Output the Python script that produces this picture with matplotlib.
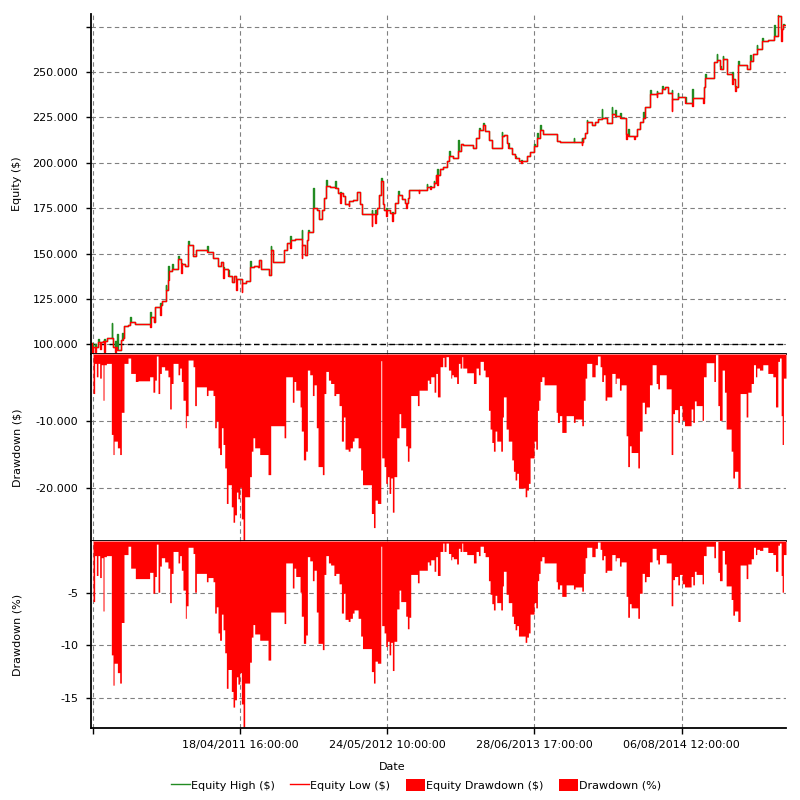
import numpy as np
import matplotlib
matplotlib.use("Agg")
import matplotlib.pyplot as plt
from matplotlib.lines import Line2D
from matplotlib.patches import Patch
from datetime import datetime

# x values are days since the first bar (07/03/2010 21:00)
start = datetime(2010, 3, 7, 21)

# equity curve, thousands of $
eq_days = [0, 3, 5, 11, 13, 20, 22, 24, 26, 34, 36, 38, 43, 56, 58, 61, 65, 67, 72, 74,
           82, 85, 87, 91, 100, 106, 108, 120, 161, 163, 173, 176, 188, 190, 195, 204, 206, 211, 213, 222,
           224, 237, 239, 247, 249, 257, 266, 268, 279, 287, 316, 318, 334, 346, 348, 355, 361, 363, 375, 377,
           384, 391, 397, 399, 411, 413, 422, 434, 436, 446, 456, 459, 464, 486, 490, 492, 498, 528, 534, 543,
           545, 557, 575, 577, 584, 589, 593, 595, 607, 609, 616, 621, 631, 637, 641, 643, 652, 666, 668, 675,
           680, 682, 689, 694, 703, 705, 716, 727, 733, 739, 766, 768, 775, 777, 780, 787, 791, 794, 796, 801,
           805, 807, 816, 822, 824, 830, 839, 841, 848, 857, 860, 862, 866, 869, 894, 896, 916, 918, 925, 928,
           935, 937, 942, 945, 947, 953, 962, 971, 978, 980, 989, 1003, 1005, 1010, 1016, 1044, 1051, 1060, 1062, 1071,
           1073, 1076, 1085, 1087, 1094, 1103, 1121, 1123, 1126, 1135, 1139, 1141, 1148, 1157, 1159, 1167, 1175, 1177, 1189, 1198,
           1209, 1211, 1217, 1219, 1226, 1228, 1235, 1271, 1273, 1280, 1317, 1319, 1339, 1341, 1344, 1348, 1353, 1355, 1367, 1376,
           1385, 1394, 1396, 1408, 1421, 1423, 1430, 1432, 1444, 1446, 1460, 1462, 1467, 1469, 1482, 1484, 1490, 1499, 1508, 1510,
           1512, 1526, 1528, 1544, 1546, 1558, 1560, 1567, 1574, 1585, 1587, 1601, 1603, 1622, 1624, 1640, 1642, 1670, 1672, 1676,
           1678, 1701, 1708, 1710, 1717, 1719, 1724, 1726, 1735, 1737, 1749, 1751, 1758, 1760, 1767, 1769, 1790, 1799, 1801, 1808,
           1817, 1819, 1831, 1833, 1849, 1865, 1867, 1874, 1876, 1884, 1886, 1890, 1892, 1897]
eq_low = [100.6, 95.0, 98.7, 96.0, 98.7, 101.5, 101.5, 97.5, 101.5, 101.8, 96.0, 101.8, 103.3, 103.3, 103.3, 98.3, 96.0, 98.3, 96.9, 96.9,
          102.4, 102.4, 103.3, 110.1, 110.7, 112.2, 112.2, 111.2, 109.8, 115.3, 112.5, 120.3, 116.0, 121.7, 123.9, 130.0, 130.0, 135.3, 140.1, 141.6,
          141.6, 146.9, 146.9, 139.2, 144.4, 142.9, 154.9, 154.9, 148.8, 152.1, 150.6, 150.6, 147.5, 142.9, 142.9, 145.3, 136.5, 141.4, 137.4, 137.4,
          134.1, 137.4, 130.0, 135.9, 128.7, 133.7, 135.0, 142.3, 142.3, 143.3, 142.5, 146.2, 141.6, 138.3, 146.0, 152.1, 145.3, 152.1, 155.8, 153.0,
          157.6, 158.0, 147.5, 154.9, 149.3, 157.6, 161.7, 161.7, 175.1, 175.1, 174.2, 169.0, 174.2, 180.3, 187.1, 187.1, 186.5, 186.2, 186.2, 183.4,
          177.9, 183.4, 181.6, 177.0, 176.4, 178.8, 179.2, 183.8, 177.5, 172.0, 165.0, 172.0, 167.0, 172.0, 175.1, 182.3, 189.8, 189.8, 177.5, 174.2,
          170.5, 174.2, 172.4, 167.7, 172.4, 177.9, 182.3, 182.3, 180.1, 177.9, 174.9, 177.9, 180.6, 185.2, 183.2, 185.2, 186.7, 186.7, 185.6, 186.7,
          188.9, 188.9, 193.5, 188.0, 193.5, 196.3, 197.8, 200.9, 203.6, 203.6, 202.7, 206.4, 206.4, 210.1, 209.5, 208.2, 213.8, 217.8, 217.8, 220.6,
          220.6, 217.5, 212.3, 212.3, 208.2, 207.9, 214.7, 214.7, 215.1, 211.0, 207.9, 207.9, 204.9, 202.7, 202.7, 200.9, 199.6, 200.9, 203.6, 206.0,
          209.2, 209.2, 213.8, 213.8, 218.0, 218.0, 216.0, 211.9, 211.9, 211.4, 211.4, 211.4, 210.0, 211.6, 213.8, 216.5, 222.6, 222.6, 220.6, 222.4,
          224.3, 224.8, 224.8, 222.1, 227.0, 227.0, 225.7, 225.7, 224.8, 224.8, 212.9, 216.0, 214.7, 214.7, 212.9, 214.7, 218.4, 222.6, 224.8, 224.8,
          230.7, 237.7, 237.7, 236.0, 238.3, 240.8, 240.8, 241.9, 238.6, 228.5, 234.9, 236.4, 236.4, 233.1, 233.1, 231.5, 235.9, 233.1, 241.9, 246.9,
          246.9, 255.6, 256.7, 256.7, 251.5, 251.5, 257.0, 257.0, 248.8, 248.8, 243.2, 246.0, 239.5, 241.9, 253.7, 253.7, 251.5, 256.1, 256.1, 259.8,
          262.6, 262.6, 267.2, 267.2, 267.7, 269.9, 269.9, 280.6, 280.6, 267.2, 273.6, 275.8, 275.8, 275.8]
eq_high = [100.6, 100.6, 98.7, 100.0, 98.7, 103.0, 101.5, 101.5, 101.5, 101.8, 103.0, 101.8, 103.3, 111.6, 103.3, 98.3, 102.0, 98.3, 105.6, 96.9,
           102.4, 106.0, 103.3, 110.1, 110.7, 115.0, 112.2, 111.2, 118.0, 115.3, 112.5, 120.3, 122.5, 121.7, 123.9, 132.6, 130.0, 143.0, 140.1, 144.0,
           141.6, 148.5, 146.9, 145.0, 144.4, 142.9, 157.0, 154.9, 148.8, 152.1, 154.0, 150.6, 147.5, 145.0, 142.9, 145.3, 142.5, 141.4, 141.0, 137.4,
           134.1, 137.4, 136.0, 135.9, 133.7, 133.7, 135.0, 146.0, 142.3, 143.3, 142.5, 146.2, 141.6, 138.3, 154.0, 152.1, 145.3, 152.1, 155.8, 159.5,
           157.6, 158.0, 163.0, 154.9, 149.3, 157.6, 163.0, 161.7, 186.2, 175.1, 174.2, 169.0, 174.2, 180.3, 190.4, 187.1, 186.5, 189.8, 186.2, 183.4,
           184.0, 183.4, 181.6, 177.0, 179.0, 178.8, 179.2, 183.8, 177.5, 172.0, 174.2, 172.0, 174.0, 172.0, 175.1, 182.3, 191.7, 189.8, 177.5, 174.2,
           175.0, 174.2, 172.4, 173.0, 172.4, 177.9, 184.5, 182.3, 180.1, 177.9, 178.0, 177.9, 180.6, 185.2, 185.2, 185.2, 188.5, 186.7, 187.0, 186.7,
           190.0, 188.9, 193.5, 196.3, 193.5, 196.3, 197.8, 200.9, 206.4, 203.6, 202.7, 212.3, 206.4, 210.1, 209.5, 208.2, 213.8, 219.0, 217.8, 222.0,
           220.6, 217.5, 214.0, 212.3, 208.2, 207.9, 217.0, 214.7, 215.1, 211.0, 211.0, 207.9, 204.9, 203.5, 202.7, 200.9, 201.5, 200.9, 203.6, 206.0,
           210.5, 209.2, 216.5, 213.8, 220.6, 218.0, 216.0, 212.5, 211.9, 211.4, 213.8, 211.4, 213.6, 211.6, 213.8, 216.5, 223.8, 222.6, 220.6, 222.4,
           224.3, 229.6, 224.8, 222.1, 230.6, 227.0, 229.0, 225.7, 227.6, 224.8, 216.0, 216.0, 218.4, 214.7, 214.7, 214.7, 218.4, 222.6, 228.0, 224.8,
           230.7, 240.2, 237.7, 239.5, 238.3, 242.4, 240.8, 241.9, 238.6, 240.0, 234.9, 238.6, 236.4, 236.4, 233.1, 240.8, 235.9, 235.9, 241.9, 249.0,
           246.9, 255.6, 259.8, 256.7, 253.0, 251.5, 258.5, 257.0, 250.6, 248.8, 250.0, 246.0, 242.0, 241.9, 256.1, 253.7, 251.5, 259.5, 256.1, 259.8,
           265.0, 262.6, 268.5, 267.2, 267.7, 275.8, 269.9, 281.5, 280.6, 273.6, 273.6, 276.5, 275.8, 275.8]

# drawdown, thousands of $ and percent
dd_days = [5.5, 10, 14.6, 19, 23.7, 28, 32.8, 35.5, 42, 55.5, 60, 63, 72, 78.3, 82.8, 90, 101, 108.3, 121, 128.3,
           160, 169, 174, 178.4, 183, 187.5, 192, 201, 210, 214.8, 219, 224, 237.5, 242, 246.6, 251, 257.5, 260, 265, 278.5,
           283, 287.6, 315, 319.4, 333, 337.6, 342, 346.7, 351, 356, 360.4, 365, 369.5, 374, 383, 387.7, 392, 397, 401, 406,
           410.4, 415, 419.5, 433, 437.7, 442, 446.8, 460.5, 483.2, 490.5, 527, 531.5, 549.6, 554, 558.8, 570.6, 574, 579.7, 586, 590.6,
           597, 604.3, 608.8, 615, 619.7, 631.5, 636, 641, 648, 654, 663, 668, 677, 683.4, 689, 693.4, 702, 707, 713.5, 718,
           729, 736, 741, 765.3, 771, 775.3, 781.7, 791, 793.5, 800, 804.5, 809, 813.6, 818, 822.6, 827, 834.5, 840.8, 845.4, 859,
           863.6, 868, 872.7, 891, 895.5, 918, 922.8, 927.3, 936.4, 941, 945.5, 952.8, 960, 963.7, 969, 975.6, 982, 984.6, 989, 998,
           1002.8, 1007.4, 1012, 1014.7, 1025.6, 1043.8, 1051, 1057.5, 1062, 1071, 1075.7, 1084.8, 1089.3, 1094, 1098.4, 1103, 1107.5, 1118.4, 1123, 1125.7,
           1133, 1139, 1148.5, 1153, 1157.5, 1162, 1166.7, 1185, 1189.4, 1194, 1198.5, 1209.4, 1214, 1218.5, 1222, 1225.8, 1230.4, 1236.7, 1269.5, 1273,
           1278.6, 1285, 1296.8, 1316.8, 1321.4, 1339.6, 1344, 1348.7, 1353, 1366.9, 1376, 1382.3, 1389.6, 1394, 1398.7, 1403.2, 1407.8, 1421.5, 1430.6, 1433.3,
           1442.4, 1447, 1460.6, 1465, 1469.7, 1474.3, 1492.5, 1497, 1504.3, 1510.6, 1515, 1524.3, 1531.6, 1542.5, 1547, 1551.6, 1570, 1583.5, 1588, 1592.6,
           1601.7, 1606.2, 1613.5, 1620, 1638, 1642.6, 1647, 1651.7, 1668, 1671.7, 1679, 1700, 1704.5, 1711, 1715.4, 1722.7, 1729, 1733.6, 1747.3, 1751.8,
           1756.4, 1765.5, 1771.8, 1788.2, 1792.8, 1801.9, 1808.2, 1813.7, 1817.3, 1824.6, 1833.7, 1847.4, 1861, 1868.3, 1874.7, 1879.2, 1883.8, 1886.5, 1890, 1897]
dd_usd = [-5.9, -1.4, -3.4, -1.4, -3.6, -1.6, -6.9, -1.6, -1.4, -12.0, -15.0, -13.0, -14.0, -15.0, -8.7, -1.4, -0.6, -2.9, -4.1, -4.0,
          -3.4, -5.7, -3.9, -0.3, -5.9, -2.9, -1.9, -2.4, -3.4, -8.2, -4.4, -1.4, -3.1, -2.1, -4.1, -6.9, -11.0, -9.2, -0.9, -1.9,
          -7.7, -4.9, -6.2, -5.4, -6.2, -11.0, -10.0, -14.0, -15.0, -11.0, -13.5, -17.0, -22.3, -19.5, -22.8, -25.1, -24.0, -20.6, -21.6, -19.9,
          -24.6, -27.9, -21.3, -18.3, -14.5, -12.5, -14.0, -15.0, -18.0, -10.7, -12.5, -3.4, -7.2, -4.1, -5.4, -7.9, -11.5, -15.8, -14.5, -2.4,
          -3.1, -6.2, -4.6, -11.0, -16.8, -18.0, -5.9, -2.6, -3.9, -4.4, -6.2, -5.9, -7.7, -13.0, -9.4, -14.2, -14.5, -14.0, -13.0, -12.5,
          -14.0, -17.3, -19.5, -23.8, -25.9, -21.8, -22.3, -1.0, -15.5, -16.8, -19.3, -18.3, -20.8, -18.5, -23.6, -18.3, -12.5, -8.9, -11.0, -13.7,
          -16.0, -14.0, -6.2, -7.7, -5.4, -3.9, -4.4, -3.4, -5.7, -2.9, -6.4, -1.9, -0.5, -1.9, -0.4, -2.4, -3.6, -3.1, -3.4, -4.4,
          -1.4, -2.1, -0.4, -2.1, -2.8, -4.4, -2.1, -3.1, -1.1, -2.4, -3.4, -8.4, -11.2, -13.2, -14.5, -11.5, -13.0, -14.5, -9.4, -6.4,
          -11.2, -13.0, -15.8, -17.5, -18.8, -17.8, -20.0, -21.3, -20.3, -19.3, -15.5, -13.0, -14.2, -8.4, -6.9, -4.1, -3.4, -4.6, -8.7, -10.2,
          -9.2, -11.7, -9.2, -10.2, -9.7, -10.7, -6.9, -3.6, -1.4, -3.4, -1.6, -0.3, -1.9, -4.1, -3.1, -6.9, -6.4, -2.9, -4.4, -3.6,
          -5.4, -4.6, -12.2, -16.8, -13.7, -14.7, -17.0, -11.5, -7.2, -8.9, -7.9, -4.6, -1.6, -4.4, -5.2, -3.1, -5.2, -15.0, -8.9, -8.3,
          -10.2, -7.7, -9.9, -10.7, -8.2, -10.2, -7.0, -7.7, -9.9, -3.4, -1.3, -4.1, -0.1, -7.7, -9.9, -2.4, -5.7, -11.2, -14.5, -18.5,
          -17.5, -20.0, -5.9, -9.4, -5.7, -4.4, -1.6, -3.4, -2.1, -2.4, -1.6, -2.9, -3.4, -7.9, -1.1, -0.6, -9.2, -13.5, -3.6, -3.6]
dd_pct = [-5.8, -1.4, -3.3, -1.4, -3.5, -1.6, -6.7, -1.5, -1.4, -10.9, -13.8, -11.7, -12.6, -13.6, -7.8, -1.3, -0.5, -2.6, -3.6, -3.6,
          -3.0, -5.0, -3.4, -0.3, -4.9, -2.4, -1.6, -2.0, -2.6, -5.9, -3.1, -1.0, -2.1, -1.4, -2.8, -4.7, -7.4, -6.2, -0.6, -1.2,
          -4.9, -3.1, -3.9, -3.5, -3.9, -6.9, -6.3, -8.8, -9.5, -7.0, -8.5, -10.7, -14.1, -12.3, -14.4, -15.9, -15.2, -13.0, -13.7, -12.6,
          -15.6, -17.8, -13.6, -11.6, -9.2, -8.0, -8.9, -9.5, -11.4, -6.8, -7.9, -2.1, -4.5, -2.6, -3.4, -4.9, -7.2, -9.8, -9.0, -1.5,
          -1.9, -3.8, -2.8, -6.8, -9.8, -10.4, -3.2, -1.4, -2.1, -2.3, -3.3, -3.1, -4.1, -6.9, -5.0, -7.5, -7.7, -7.4, -6.9, -6.6,
          -7.4, -9.1, -10.3, -12.5, -13.6, -11.5, -11.7, -0.5, -8.1, -8.8, -10.1, -9.6, -10.9, -9.7, -12.4, -9.6, -6.5, -4.7, -5.8, -7.2,
          -8.4, -7.3, -3.2, -4.0, -2.8, -2.0, -2.3, -1.8, -2.9, -1.5, -3.3, -1.0, -0.2, -1.0, -0.2, -1.2, -1.8, -1.5, -1.7, -2.2,
          -0.7, -1.0, -0.2, -1.0, -1.3, -2.1, -1.0, -1.4, -0.5, -1.1, -1.5, -3.8, -5.1, -6.0, -6.6, -5.2, -5.9, -6.6, -4.3, -2.9,
          -5.1, -5.9, -7.2, -7.9, -8.5, -8.1, -9.1, -9.7, -9.2, -8.8, -7.0, -5.9, -6.4, -3.8, -3.1, -1.9, -1.5, -2.1, -3.9, -4.6,
          -4.2, -5.3, -4.2, -4.6, -4.4, -4.8, -3.1, -1.6, -0.6, -1.5, -0.7, -0.1, -0.8, -1.8, -1.4, -3.0, -2.8, -1.3, -1.9, -1.6,
          -2.4, -2.0, -5.3, -7.3, -6.0, -6.4, -7.4, -5.0, -3.1, -3.9, -3.4, -2.0, -0.7, -1.8, -2.2, -1.3, -2.1, -6.2, -3.7, -3.4,
          -4.2, -3.2, -4.1, -4.4, -3.4, -4.2, -2.9, -3.2, -4.1, -1.4, -0.5, -1.6, -0.05, -3.0, -3.8, -0.9, -2.2, -4.3, -5.6, -7.1,
          -6.7, -7.7, -2.3, -3.6, -2.2, -1.7, -0.6, -1.3, -0.8, -0.9, -0.6, -1.1, -1.3, -2.9, -0.4, -0.2, -3.3, -4.9, -1.3, -1.3]

tick_dates = [datetime(2010, 3, 13, 9), datetime(2011, 4, 18, 16), datetime(2012, 5, 24, 10),
              datetime(2013, 6, 28, 17), datetime(2014, 8, 6, 12)]
tick_labels = ["", "18/04/2011 16:00:00", "24/05/2012 10:00:00",
               "28/06/2013 17:00:00", "06/08/2014 12:00:00"]
equity_ticks = [100000, 125000, 150000, 175000, 200000, 225000, 250000, 275000]
equity_labels = ["100.000", "125.000", "150.000", "175.000", "200.000", "225.000", "250.000", ""]

plt.rcParams["font.family"] = ["DejaVu Sans"]
plt.rcParams["font.size"] = 8

RED = "#ff0000"
GREEN = "#228b22"
GRID = "#808080"

tick_days = [(t - start).total_seconds() / 86400 for t in tick_dates]
x_end = 1897

fig = plt.figure(figsize=(8, 8), dpi=100)
ax1 = fig.add_axes([0.11375, 0.5575, 0.86875, 0.4250])
ax2 = fig.add_axes([0.11375, 0.32375, 0.86875, 0.23375])
ax3 = fig.add_axes([0.11375, 0.09, 0.86875, 0.23375])

ax1.plot(eq_days, np.array(eq_high) * 1000, drawstyle="steps-post", color=GREEN, lw=1.0)
ax1.plot(eq_days, np.array(eq_low) * 1000, drawstyle="steps-post", color=RED, lw=1.0)
ax1.axhline(100000, color="black", ls=(0, (4, 2.5)), lw=1.0, zorder=1)
ax1.set_ylim(94660, 281900)
ax1.set_yticks(equity_ticks)
ax1.set_yticklabels(equity_labels)
ax1.set_ylabel("Equity ($)")

ax2.fill_between(dd_days, np.array(dd_usd) * 1000, 0, step="post", color=RED, lw=0)
ax2.set_ylim(-27900, 0)
ax2.set_yticks([-20000, -10000])
ax2.set_yticklabels(["-20.000", "-10.000"])
ax2.set_ylabel("Drawdown ($)")

ax3.fill_between(dd_days, dd_pct, 0, step="post", color=RED, lw=0)
ax3.set_ylim(-17.9, 0)
ax3.set_yticks([-15, -10, -5])
ax3.set_yticklabels(["-15", "-10", "-5"])
ax3.set_ylabel("Drawdown (%)")

for ax in (ax1, ax2, ax3):
    ax.set_xlim(0, x_end)
    ax.set_xticks(tick_days)
    ax.grid(True, color=GRID, ls=(0, (4, 3)), lw=0.8)
    ax.set_axisbelow(True)
    ax.spines["top"].set_visible(False)
    ax.spines["right"].set_visible(False)
    ax.spines["left"].set_linewidth(1.3)
    ax.spines["bottom"].set_linewidth(1.3)
    ax.spines["bottom"].set_zorder(5)
    ax.tick_params(axis="y", length=3.6, width=1.0, pad=5.5, labelsize=8)
    ax.yaxis.set_label_coords(-0.099, 0.5)

ax1.tick_params(axis="x", length=0, labelbottom=False)
ax2.tick_params(axis="x", length=0, labelbottom=False)
ax3.set_xticklabels(tick_labels)
ax3.tick_params(axis="x", length=4.3, width=1.0, pad=4.5, labelsize=8)

fig.text(0.49, 0.041, "Date", ha="center", va="center", fontsize=8)

handles = [Line2D([], [], color=GREEN, lw=1.0),
           Line2D([], [], color=RED, lw=1.0),
           Patch(facecolor=RED, edgecolor="none"),
           Patch(facecolor=RED, edgecolor="none")]
labels = ["Equity High ($)", "Equity Low ($)", "Equity Drawdown ($)", "Drawdown (%)"]
fig.legend(handles, labels, loc="center", bbox_to_anchor=(0.52, 0.0185), ncol=4,
           frameon=False, fontsize=8, handlelength=1.7, handleheight=1.2,
           handletextpad=0.1, columnspacing=1.4)

fig.savefig("out.png", dpi=100)
